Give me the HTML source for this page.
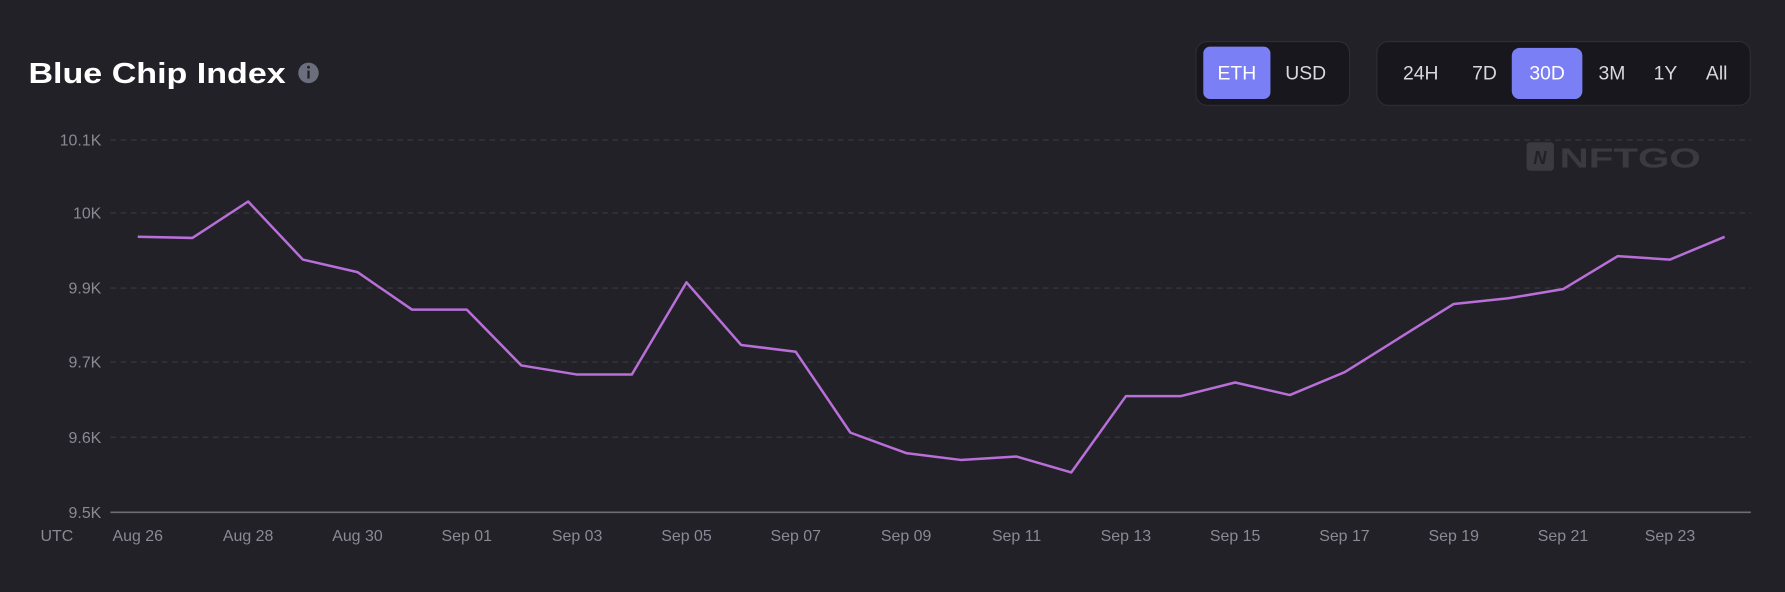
<!DOCTYPE html>
<html><head><meta charset="utf-8"><style>
html,body{margin:0;padding:0;background:#222128;}
svg{display:block}
text{font-family:"Liberation Sans",sans-serif}
</style></head><body>
<svg width="1785" height="592" viewBox="0 0 1568 520" preserveAspectRatio="none">
<rect width="1568" height="520" fill="#222128"/>
<text x="25" y="73" font-size="25" font-weight="bold" fill="#ffffff" textLength="226" lengthAdjust="spacingAndGlyphs">Blue Chip Index</text>
<circle cx="271" cy="64" r="9" fill="#6b6e7d"/>
<rect x="270" y="62" width="2" height="7" fill="#222128"/><circle cx="271" cy="59" r="1.3" fill="#222128"/>
<rect x="1050.5" y="36.5" width="135" height="56" rx="10" fill="#18171d" stroke="#2e2d36"/>
<rect x="1057" y="41" width="59" height="46" rx="6" fill="#7b7ff6"/>
<text x="1086.5" y="70" font-size="17" fill="#fff" text-anchor="middle">ETH</text>
<text x="1147" y="70" font-size="17" fill="#d8d8de" text-anchor="middle">USD</text>
<rect x="1209.5" y="36.5" width="328" height="56" rx="10" fill="#18171d" stroke="#2e2d36"/>
<rect x="1328" y="42" width="62" height="45" rx="7" fill="#7b7ff6"/>
<g font-size="17" fill="#d8d8de" text-anchor="middle">
<text x="1248" y="70">24H</text><text x="1304" y="70">7D</text><text x="1359" y="70" fill="#fff">30D</text><text x="1416" y="70">3M</text><text x="1463" y="70">1Y</text><text x="1508" y="70">All</text></g>
<rect x="1341" y="125" width="24" height="25" rx="3" fill="#3a3a40"/>
<text x="1347" y="144" font-size="16" font-weight="bold" font-style="italic" fill="#222128">N</text>
<text x="1370" y="147" font-size="24" font-weight="bold" fill="#3a3a40" textLength="124" lengthAdjust="spacingAndGlyphs">NFTGO</text>
<g stroke="#3a3940" stroke-dasharray="5,4" stroke-width="1">
<line x1="97" y1="123" x2="1538" y2="123"/><line x1="97" y1="187" x2="1538" y2="187"/>
<line x1="97" y1="253" x2="1538" y2="253"/><line x1="97" y1="318" x2="1538" y2="318"/>
<line x1="97" y1="384" x2="1538" y2="384"/></g>
<line x1="97" y1="450" x2="1538" y2="450" stroke="#6e6d76" stroke-width="1.5"/>
<g font-size="14" fill="#8a8994" text-anchor="end">
<text x="89" y="128">10.1K</text><text x="89" y="192">10K</text><text x="89" y="258">9.9K</text>
<text x="89" y="323">9.7K</text><text x="89" y="389">9.6K</text><text x="89" y="455">9.5K</text></g>
<g font-size="14" fill="#8a8994" text-anchor="middle">
<text x="50" y="475">UTC</text>
<text x="121" y="475">Aug 26</text><text x="218" y="475">Aug 28</text><text x="314" y="475">Aug 30</text>
<text x="410" y="475">Sep 01</text><text x="507" y="475">Sep 03</text><text x="603" y="475">Sep 05</text>
<text x="699" y="475">Sep 07</text><text x="796" y="475">Sep 09</text><text x="893" y="475">Sep 11</text>
<text x="989" y="475">Sep 13</text><text x="1085" y="475">Sep 15</text><text x="1181" y="475">Sep 17</text>
<text x="1277" y="475">Sep 19</text><text x="1373" y="475">Sep 21</text><text x="1467" y="475">Sep 23</text></g>
<polyline fill="none" stroke="#b86fd8" stroke-width="2.2" stroke-linejoin="round" points="121,208 169,209 218,177 266,228 314,239 362,272 410,272 458,321 507,329 555,329 603,248 651,303 699,309 747,380 796,398 844,404 893,401 941,415 989,348 1037,348 1085,336 1133,347 1181,327 1229,297 1277,267 1325,262 1373,254 1421,225 1467,228 1515,208"/>
</svg>
</body></html>
